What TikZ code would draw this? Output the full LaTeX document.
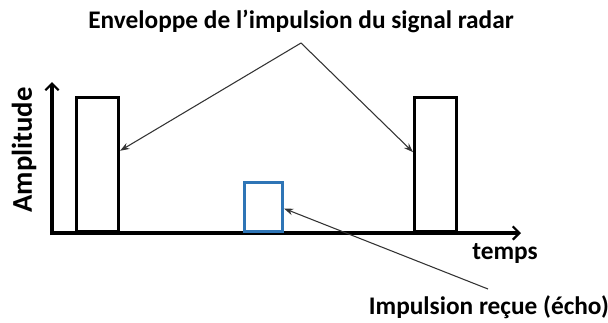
\documentclass[tikz,border=0pt]{standalone}
\usepackage{fontspec}
\setmainfont{Carlito}
\usetikzlibrary{arrows.meta,calc}

\definecolor{echoblue}{RGB}{46,117,182}

\begin{document}
\begin{tikzpicture}[
    x=0.75pt, y=-0.75pt,
    pulse/.style={rectangle, draw, line width=2.3pt, anchor=south west, minimum width=31.5pt, minimum height=100.5pt, inner sep=0pt},
    echo/.style={pulse, draw=echoblue, minimum width=28.5pt, minimum height=36.75pt},
    axis/.style={line width=2.3pt, -{Straight Barb[length=5pt,width=10pt,line width=1.6pt]}},
    pointer/.style={draw=black!80, line width=0.8pt, -{Stealth[length=7pt,width=5pt]}},
    label/.style={font=\bfseries, inner sep=0pt}
]
    \useasboundingbox (0,0) rectangle (608,322);

    % axes
    \coordinate (origin) at (52,233);
    \coordinate (ytip) at (52,82);
    \coordinate (xtip) at (521,233);
    \draw[axis] (52,235) -- (ytip);
    \draw[axis] (origin) -- (xtip);

    % pulses
    \node[pulse] (lpulse) at (75,233) {};
    \node[pulse] (rpulse) at (413,233) {};
    \node[echo] (epulse) at (243,233) {};

    % labels
    \node[label, font=\bfseries\fontsize{19}{22}\selectfont] (title) at (301,21) {Enveloppe de l’impulsion du signal radar};
    \node[label, font=\bfseries\fontsize{21.5}{24}\selectfont, rotate=90] (amp) at (24,150) {Amplitude};
    \node[label, font=\bfseries\fontsize{19}{22}\selectfont] (temps) at (505,253) {temps};
    \node[label, font=\bfseries\fontsize{19}{22}\selectfont] (echolabel) at (489,307) {Impulsion reçue (écho)};

    % pointers
    \coordinate (apex) at (301,43);
    \coordinate (echofrom) at (488,289);
    \draw[pointer] (apex) -- ($(lpulse.north east)!0.4!(lpulse.south east)$);
    \draw[pointer] (apex) -- ($(rpulse.north west)!0.41!(rpulse.south west)$);
    \draw[pointer] (echofrom) -- ($(epulse.north east)!0.53!(epulse.south east)$);
\end{tikzpicture}
\end{document}
